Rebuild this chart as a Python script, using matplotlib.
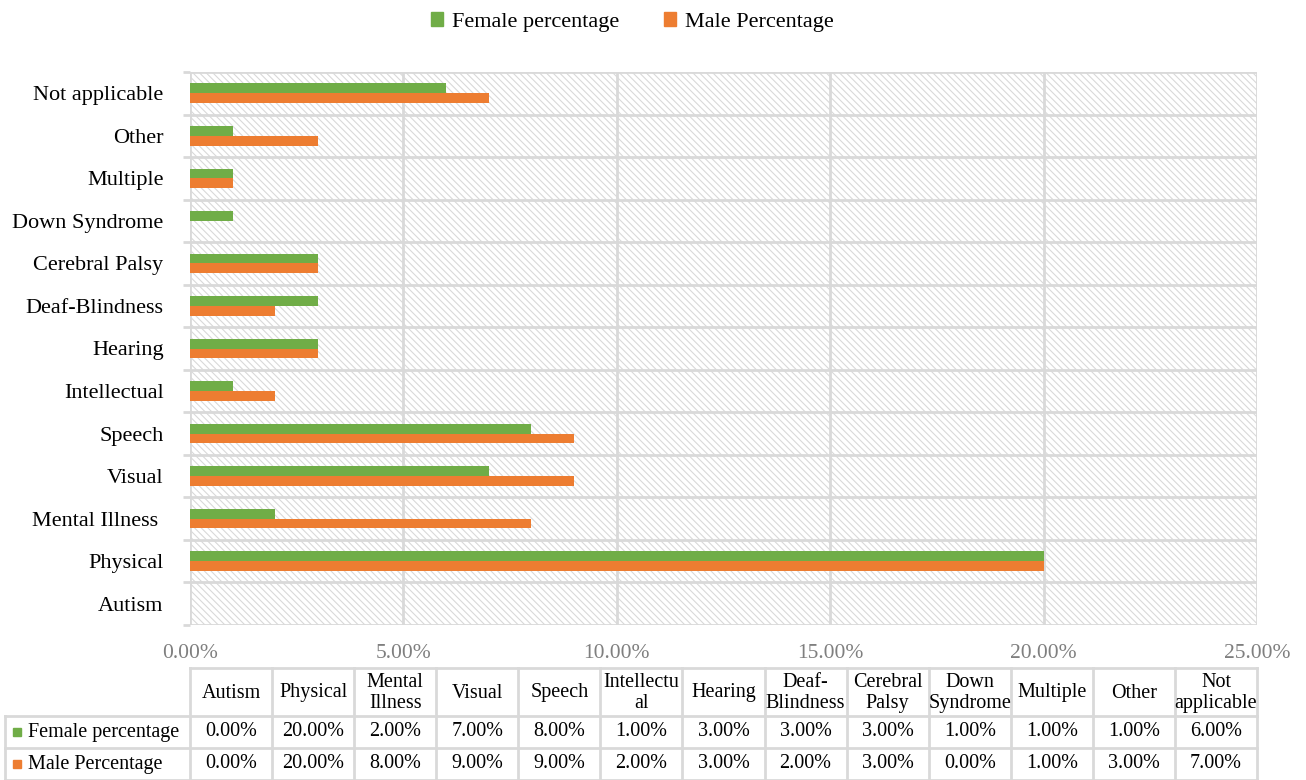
import matplotlib.pyplot as plt
import matplotlib.patches as mpatches
from matplotlib.lines import Line2D
import numpy as np

plt.rcParams['font.family'] = ['Liberation Serif', 'DejaVu Serif']
plt.rcParams['hatch.color'] = '#d9d9d9'
plt.rcParams['hatch.linewidth'] = 0.8

# categories, bottom to top
categories = ['Autism', 'Physical', 'Mental Illness ', 'Visual', 'Speech', 'Intellectual',
              'Hearing', 'Deaf-Blindness', 'Cerebral Palsy', 'Down Syndrome', 'Multiple',
              'Other', 'Not applicable']
table_headers = ['Autism', 'Physical', 'Mental\nIllness', 'Visual', 'Speech', 'Intellectu\nal',
                 'Hearing', 'Deaf-\nBlindness', 'Cerebral\nPalsy', 'Down\nSyndrome', 'Multiple',
                 'Other', 'Not\napplicable']
female_pct = [0, 20, 2, 7, 8, 1, 3, 3, 3, 1, 1, 1, 6]
male_pct = [0, 20, 8, 9, 9, 2, 3, 2, 3, 0, 1, 3, 7]
series_names = ['Female percentage', 'Male Percentage']
green = '#70AD47'
orange = '#ED7D31'
grid_c = '#d9d9d9'

W, H = 1306, 780
fig = plt.figure(figsize=(W / 100, H / 100), dpi=100)

# main bar chart
left, right, top, bottom = 190, 1257, 72, 625
ax = fig.add_axes([left / W, 1 - bottom / H, (right - left) / W, (bottom - top) / H])
n = len(categories)
y = np.arange(n)
bh = 0.23
ax.add_patch(mpatches.Rectangle((0, 0), 1, 1, transform=ax.transAxes, facecolor='white',
                                edgecolor=grid_c, hatch='\\\\\\\\\\', lw=0, zorder=0))
ax.barh(y + bh / 2, female_pct, height=bh, color=green, zorder=3)
ax.barh(y - bh / 2, male_pct, height=bh, color=orange, zorder=3)

ax.set_xlim(0, 25)
ax.set_ylim(-0.5, n - 0.5)
ax.set_xticks(np.arange(0, 26, 5))
ax.set_xticklabels([f'{v:.2f}%' for v in np.arange(0, 26, 5)], color='#7f7f7f', fontsize=15.5)
ax.set_yticks(y)
ax.set_yticklabels(categories, fontsize=16)
ax.set_yticks(np.arange(-0.5, n, 1), minor=True)
ax.tick_params(axis='y', which='major', length=0, pad=19)
ax.tick_params(axis='y', which='minor', length=5, width=2, color=grid_c)
ax.tick_params(axis='x', length=0, pad=14)
for b in np.arange(-0.5, n, 1):
    ax.axhline(b, color=grid_c, lw=2, zorder=1)
for v in np.arange(0, 26, 5):
    ax.axvline(v, color=grid_c, lw=2, zorder=1)
for s in ax.spines.values():
    s.set_visible(False)

# legend
handles = [mpatches.Patch(color=green, label=series_names[0]),
           mpatches.Patch(color=orange, label=series_names[1])]
fig.legend(handles=handles, loc='upper center', bbox_to_anchor=(0.484, 1.01), ncol=2,
           frameon=False, fontsize=16, handlelength=0.55, handleheight=0.55,
           handletextpad=0.4, columnspacing=2.0)

# data table below the chart
tab = fig.add_axes([0, 0, 1, 1])
tab.set_xlim(0, W)
tab.set_ylim(H, 0)
tab.axis('off')
col_w = (right - left) / n
row_y = [668, 716, 748, 780]
lab_x0 = 5
kw = dict(color=grid_c, lw=2)
tab.add_line(Line2D([left, right], [row_y[0], row_y[0]], **kw))
for ry in row_y[1:]:
    tab.add_line(Line2D([lab_x0, right], [ry, ry], **kw))
tab.add_line(Line2D([lab_x0, lab_x0], [row_y[1], row_y[3]], **kw))
for i in range(n + 1):
    x = left + i * col_w
    tab.add_line(Line2D([x, x], [row_y[0], row_y[3]], **kw))

fs = 14.5
for i in range(n):
    cx = left + (i + 0.5) * col_w
    tab.text(cx, (row_y[0] + row_y[1]) / 2 + 1, table_headers[i], ha='center', va='center',
             fontsize=fs, linespacing=1.08)
    tab.text(cx, (row_y[1] + row_y[2]) / 2, f'{female_pct[i]:.2f}%', ha='center',
             va='center', fontsize=fs)
    tab.text(cx, (row_y[2] + row_y[3]) / 2, f'{male_pct[i]:.2f}%', ha='center',
             va='center', fontsize=fs)

for r, (name, c) in enumerate(zip(series_names, [green, orange])):
    cy = (row_y[r + 1] + row_y[r + 2]) / 2
    tab.add_patch(mpatches.Rectangle((13, cy - 4), 8, 8, color=c))
    tab.text(28, cy, name, ha='left', va='center', fontsize=fs)

fig.savefig('out.png', dpi=100)
